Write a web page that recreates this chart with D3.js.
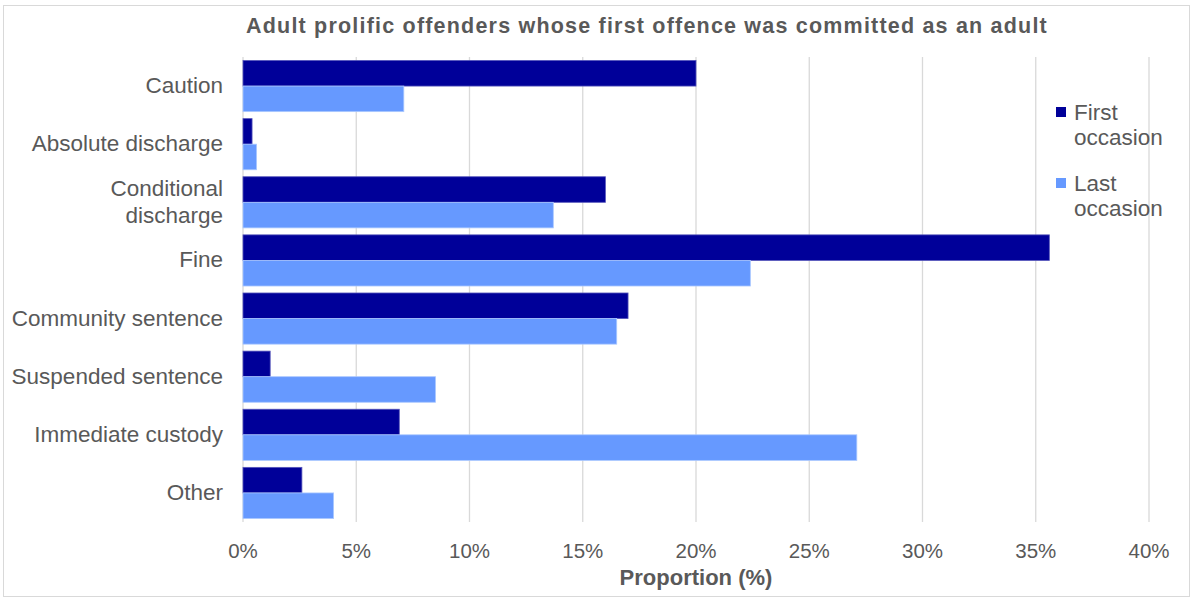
<!DOCTYPE html>
<html>
<head>
<meta charset="utf-8">
<script src="https://cdn.jsdelivr.net/npm/d3@7"></script>
<style>
  body { margin: 0; background: #fff; }
  svg text { font-family: "Liberation Sans", Arial, sans-serif; fill: #595959; }
</style>
</head>
<body>
<svg id="chart" width="1192" height="599"></svg>
<script>
const categories = ['Caution', 'Absolute discharge', 'Conditional discharge', 'Fine',
  'Community sentence', 'Suspended sentence', 'Immediate custody', 'Other']
const firstOccasion = [20.0, 0.4, 16.0, 35.6, 17.0, 1.2, 6.9, 2.6]
const lastOccasion = [7.1, 0.6, 13.7, 22.4, 16.5, 8.5, 27.1, 4.0]
const seriesNames = ['First occasion', 'Last occasion']
const xTicks = [0, 5, 10, 15, 20, 25, 30, 35, 40]

const colors = ['#000099', '#6699ff']
const svg = d3.select('#chart')

// outer frame
svg.append('rect')
  .attr('x', 3.5).attr('y', 5.5)
  .attr('width', 1186).attr('height', 591)
  .attr('fill', 'none').attr('stroke', '#d9d9d9')

const m = { left: 243, right: 1149, top: 57, bottom: 522 }

const x = d3.scaleLinear().domain([0, 40]).range([m.left, m.right])
const y = d3.scaleBand().domain(categories).range([m.top, m.bottom]).paddingInner(0.12).paddingOuter(0.06)
const y1 = d3.scaleBand().domain(seriesNames).range([0, y.bandwidth()])

// gridlines
svg.append('g')
  .selectAll('line')
  .data(xTicks)
  .enter()
  .append('line')
  .attr('x1', d => x(d)).attr('x2', d => x(d))
  .attr('y1', m.top).attr('y2', m.bottom)
  .attr('stroke', '#d9d9d9').attr('stroke-width', 1.3)

// bars
const rows = categories.map((c, i) => ({ cat: c, vals: [firstOccasion[i], lastOccasion[i]] }))
const groups = svg.append('g')
  .selectAll('g')
  .data(rows)
  .enter()
  .append('g')
  .attr('transform', d => `translate(0,${y(d.cat)})`)

groups.selectAll('rect')
  .data(d => d.vals.map((v, j) => ({ v, j })))
  .enter()
  .append('rect')
  .attr('x', x(0))
  .attr('y', d => y1(seriesNames[d.j]))
  .attr('width', d => x(d.v) - x(0))
  .attr('height', y1.bandwidth())
  .attr('fill', d => colors[d.j])
  .attr('stroke', d => d.j === 0 ? '#5555bb' : '#aac8ff')
  .attr('stroke-width', 0.8)

// category labels
const labelLines = {
  'Conditional discharge': ['Conditional', 'discharge']
}
const catLabels = svg.append('g')
  .selectAll('text')
  .data(categories)
  .enter()
  .append('text')
  .attr('text-anchor', 'end')
  .style('font-size', '22.5px')
  .attr('transform', d => `translate(223,${y(d) + y.bandwidth() / 2})`)

catLabels.each(function(d) {
  const lines = labelLines[d] || [d]
  const t = d3.select(this)
  lines.forEach((ln, k) => {
    t.append('tspan')
      .attr('x', 0)
      .attr('y', (k - (lines.length - 1) / 2) * 27 + 7)
      .text(ln)
  })
})

// x tick labels
svg.append('g')
  .selectAll('text')
  .data(xTicks)
  .enter()
  .append('text')
  .attr('x', d => x(d))
  .attr('y', 558)
  .attr('text-anchor', 'middle')
  .style('font-size', '20.5px')
  .text(d => d + '%')

// axis title
svg.append('text')
  .attr('x', x(20))
  .attr('y', 585)
  .attr('text-anchor', 'middle')
  .style('font-size', '22px')
  .style('font-weight', 'bold')
  .text('Proportion (%)')

// chart title
svg.append('text')
  .attr('x', 647)
  .attr('y', 33)
  .attr('text-anchor', 'middle')
  .style('font-size', '21.5px')
  .style('font-weight', 'bold')
  .style('letter-spacing', '1.2px')
  .text('Adult prolific offenders whose first offence was committed as an adult')

// legend
const legend = svg.append('g')
  .selectAll('g')
  .data(seriesNames)
  .enter()
  .append('g')
  .attr('transform', (d, i) => `translate(1056,${107 + i * 71})`)

legend.append('rect')
  .attr('width', 10).attr('height', 10)
  .attr('fill', (d, i) => colors[i])

legend.append('text')
  .style('font-size', '22.5px')
  .selectAll('tspan')
  .data(d => d.split(' '))
  .enter()
  .append('tspan')
  .attr('x', 18)
  .attr('y', (d, k) => 13 + k * 25)
  .text(d => d)
</script>
</body>
</html>
